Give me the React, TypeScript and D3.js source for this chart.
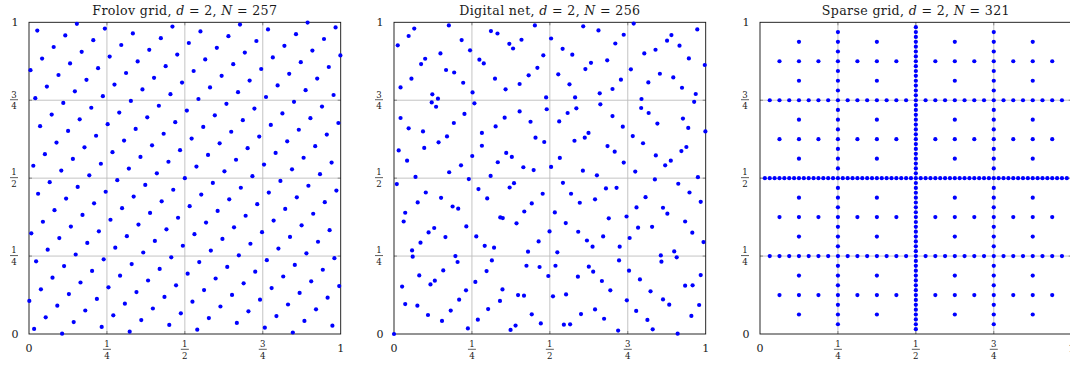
import React from "react";
import * as d3 from "d3";

// ---------- layout ----------
const W = 1070;
const H = 367;
const panelLeft = [29, 394, 760];
const panelTop = 22.3;
const panelSize = 311.7;

// ---------- titles / ticks ----------
const panelNames = ["Frolov grid", "Digital net", "Sparse grid"];
const panelDim = [2, 2, 2];
const panelN = [257, 256, 321];
const tickValues = [0, 0.25, 0.5, 0.75, 1];
const tickLabels: string[][] = [["0"], ["1", "4"], ["1", "2"], ["3", "4"], ["1"]];
const gridValues = [0.25, 0.5, 0.75];

// ---------- Frolov grid: lattice ----------
// centre point, lattice basis vectors, and per lattice row (k2) the half count of k1
const frolovCenter = [0.5, 0.5];
const frolovBasis = [
  [0.0372, 0.0372],
  [0.0526, -0.0526],
];
const frolovRowK2 = [-9, -8, -7, -6, -5, -4, -3, -2, -1, 0, 1, 2, 3, 4, 5, 6, 7, 8, 9];
const frolovRowHalf = [0, 2, 3, 4, 6, 7, 9, 10, 12, 13, 12, 10, 9, 7, 6, 4, 3, 2, 0];

// ---------- Digital net: points ----------
const netPoints: number[][] = [
  [0.176,0.990],[0.452,0.990],[0.607,0.987],[0.769,0.996],[0.065,0.980],[0.656,0.974],[0.973,0.977],[0.311,0.972],[0.332,0.964],[0.737,0.960],
  [0.890,0.959],[0.047,0.956],[0.504,0.948],[0.409,0.944],[0.217,0.943],[0.876,0.941],[0.710,0.932],[0.370,0.931],[0.012,0.926],[0.916,0.925],
  [0.382,0.916],[0.541,0.915],[0.839,0.912],[0.244,0.910],[0.149,0.900],[0.803,0.900],[0.572,0.896],[0.479,0.894],[0.684,0.878],[0.274,0.880],
  [0.100,0.883],[0.946,0.884],[0.288,0.868],[0.087,0.866],[0.632,0.870],[0.614,0.850],[0.997,0.863],[0.167,0.847],[0.460,0.854],[0.760,0.849],
  [0.193,0.839],[0.853,0.835],[0.527,0.833],[0.432,0.830],[0.056,0.819],[0.324,0.819],[0.728,0.816],[0.896,0.823],[0.222,0.806],[0.403,0.802],
  [0.563,0.801],[0.816,0.807],[0.021,0.791],[0.924,0.790],[0.358,0.785],[0.701,0.786],[0.660,0.772],[0.123,0.769],[0.252,0.775],[0.968,0.770],
  [0.581,0.759],[0.488,0.759],[0.794,0.754],[0.141,0.755],[0.121,0.743],[0.258,0.740],[0.963,0.745],[0.662,0.737],[0.135,0.729],[0.585,0.724],
  [0.490,0.721],[0.793,0.725],[0.817,0.709],[0.226,0.706],[0.403,0.714],[0.557,0.709],[0.701,0.699],[0.355,0.694],[0.021,0.693],[0.927,0.691],
  [0.192,0.677],[0.530,0.682],[0.438,0.681],[0.845,0.675],[0.326,0.666],[0.047,0.660],[0.944,0.661],[0.093,0.650],[0.624,0.645],[0.734,0.665],
  [0.612,0.630],[0.170,0.634],[0.999,0.650],[0.766,0.635],[0.454,0.630],[0.482,0.616],[0.143,0.615],[0.579,0.620],[0.282,0.645],[0.799,0.612],
  [0.097,0.597],[0.282,0.604],[0.685,0.603],[0.015,0.589],[0.360,0.581],[0.708,0.585],[0.378,0.568],[0.840,0.573],[0.938,0.600],[0.922,0.587],
  [0.042,0.556],[0.333,0.551],[0.532,0.565],[0.888,0.556],[0.870,0.541],[0.215,0.541],[0.737,0.550],[0.415,0.535],[0.504,0.536],[0.774,0.521],
  [0.177,0.519],[0.448,0.526],[0.606,0.524],[0.069,0.504],[0.310,0.507],[0.651,0.509],[0.975,0.503],[0.837,0.496],[0.240,0.497],[0.009,0.481],
  [0.542,0.485],[0.385,0.484],[0.371,0.470],[0.912,0.482],[0.271,0.465],[0.680,0.467],[0.714,0.469],[0.102,0.454],[0.477,0.450],[0.948,0.454],
  [0.568,0.450],[0.151,0.437],[0.299,0.435],[0.645,0.432],[0.807,0.439],[0.076,0.422],[0.596,0.421],[0.984,0.424],[0.188,0.409],[0.206,0.402],
  [0.442,0.419],[0.863,0.405],[0.036,0.389],[0.516,0.390],[0.418,0.393],[0.778,0.406],[0.877,0.386],[0.341,0.374],[0.349,0.372],[0.689,0.371],
  [0.746,0.377],[0.031,0.361],[0.551,0.356],[0.393,0.355],[0.934,0.361],[0.232,0.345],[0.783,0.341],[0.129,0.340],[0.828,0.344],[0.499,0.329],
  [0.111,0.326],[0.591,0.328],[0.957,0.325],[0.671,0.313],[0.264,0.313],[0.756,0.308],[0.165,0.311],[0.619,0.300],[0.085,0.293],[0.464,0.297],
  [0.993,0.295],[0.291,0.283],[0.321,0.277],[0.637,0.280],[0.724,0.280],[0.058,0.268],[0.430,0.264],[0.524,0.262],[0.899,0.265],[0.060,0.248],
  [0.197,0.250],[0.856,0.252],[0.907,0.246],[0.204,0.231],[0.314,0.236],[0.858,0.232],[0.722,0.236],[0.158,0.204],[0.297,0.202],[0.425,0.219],
  [0.467,0.215],[0.518,0.219],[0.625,0.216],[0.639,0.200],[0.754,0.203],[0.081,0.188],[0.495,0.186],[0.590,0.184],[0.789,0.175],[0.984,0.189],
  [0.667,0.170],[0.117,0.159],[0.131,0.171],[0.261,0.167],[0.026,0.152],[0.934,0.155],[0.958,0.156],[0.348,0.143],[0.823,0.137],[0.231,0.140],
  [0.694,0.140],[0.398,0.125],[0.417,0.123],[0.510,0.121],[0.552,0.127],[0.747,0.108],[0.340,0.106],[0.863,0.111],[0.883,0.094],[0.036,0.096],
  [0.075,0.091],[0.979,0.093],[0.209,0.110],[0.302,0.080],[0.182,0.075],[0.645,0.079],[0.777,0.074],[0.442,0.063],[0.600,0.064],[0.109,0.061],
  [0.954,0.058],[0.154,0.042],[0.269,0.046],[0.674,0.049],[0.813,0.045],[0.471,0.034],[0.545,0.030],[0.565,0.031],[0.390,0.027],[0.237,0.018],
  [0.374,0.013],[0.830,0.015],[0.719,0.011],[0.910,0.001],[0,0],[0.251,0.571],
];

// ---------- Sparse grid: columns (x in 64ths) and the y subdivision of each column group ----------
const sparseColumnX64: number[][] = [
  [32],
  [16, 48],
  [8, 24, 40, 56],
  [4, 12, 20, 28, 36, 44, 52, 60],
  [2, 6, 10, 14, 18, 22, 26, 30, 34, 38, 42, 46, 50, 54, 58, 62],
  [1, 3, 5, 7, 9, 11, 13, 15, 17, 19, 21, 23, 25, 27, 29, 31, 33, 35, 37, 39, 41, 43, 45, 47, 49, 51, 53, 55, 57, 59, 61, 63],
];
const sparseColumnYDen = [64, 32, 16, 8, 4, 2];

// ---------- build point sets ----------
function frolovPoints(): number[][] {
  const pts: number[][] = [];
  frolovRowK2.forEach((k2, r) => {
    const h = frolovRowHalf[r];
    for (let k1 = -h; k1 <= h; k1++) {
      pts.push([
        frolovCenter[0] + k1 * frolovBasis[0][0] + k2 * frolovBasis[1][0],
        frolovCenter[1] + k1 * frolovBasis[0][1] + k2 * frolovBasis[1][1],
      ]);
    }
  });
  return pts;
}

function sparsePoints(): number[][] {
  const pts: number[][] = [];
  sparseColumnX64.forEach((xs, g) => {
    const den = sparseColumnYDen[g];
    xs.forEach((x64) => {
      for (let k = 1; k < den; k++) pts.push([x64 / 64, k / den]);
    });
  });
  return pts;
}

const pointSets = [frolovPoints(), netPoints, sparsePoints()];

const FONT = "'DejaVu Serif', 'Liberation Serif', serif";
const INK = "#1a1a1a";

function Fraction({ x, barY, num, den }: { x: number; barY: number; num: string; den: string }) {
  return (
    <g>
      <text x={x} y={barY - 2.2} textAnchor="middle" fontSize={8.6} fontFamily={FONT} fill={INK}>{num}</text>
      <line x1={x - 4} x2={x + 4} y1={barY} y2={barY} stroke={INK} strokeWidth={0.7} />
      <text x={x} y={barY + 9.4} textAnchor="middle" fontSize={8.6} fontFamily={FONT} fill={INK}>{den}</text>
    </g>
  );
}

function Panel({ idx }: { idx: number }) {
  const x0 = panelLeft[idx];
  const xs = d3.scaleLinear().domain([0, 1]).range([x0, x0 + panelSize]);
  const ys = d3.scaleLinear().domain([0, 1]).range([panelTop + panelSize, panelTop]);
  const pts = pointSets[idx];
  const cx = x0 + panelSize / 2;
  return (
    <g>
      <text x={cx} y={14.5} textAnchor="middle" fontSize={12.6} letterSpacing={0.35} fontFamily={FONT} fill={INK}>
        {panelNames[idx] + ", "}
        <tspan fontStyle="italic">d</tspan>
        {" = " + panelDim[idx] + ", "}
        <tspan fontStyle="italic">N</tspan>
        {" = " + panelN[idx]}
      </text>
      {gridValues.map((g) => (
        <g key={"g" + g}>
          <line x1={xs(g)} x2={xs(g)} y1={ys(0)} y2={ys(1)} stroke="#bdbdbd" strokeWidth={0.9} />
          <line x1={xs(0)} x2={xs(1)} y1={ys(g)} y2={ys(g)} stroke="#bdbdbd" strokeWidth={0.9} />
        </g>
      ))}
      {gridValues.map((g) => (
        <g key={"t" + g} stroke="#707070" strokeWidth={0.8}>
          <line x1={xs(g)} x2={xs(g)} y1={ys(0)} y2={ys(0) - 3} />
          <line x1={xs(g)} x2={xs(g)} y1={ys(1)} y2={ys(1) + 3} />
          <line x1={xs(0)} x2={xs(0) + 3} y1={ys(g)} y2={ys(g)} />
          <line x1={xs(1)} x2={xs(1) - 3} y1={ys(g)} y2={ys(g)} />
        </g>
      ))}
      <rect x={xs(0)} y={ys(1)} width={panelSize} height={panelSize} fill="none" stroke="#111" strokeWidth={0.9} />
      {tickValues.map((t, i) => {
        const lab = tickLabels[i];
        if (lab.length === 1) {
          return (
            <g key={"l" + t}>
              <text x={xs(t)} y={ys(0) + 18} textAnchor="middle" fontSize={11} fontFamily={FONT} fill={INK}>{lab[0]}</text>
              <text x={x0 - 14} y={ys(t) + 4} textAnchor="middle" fontSize={11} fontFamily={FONT} fill={INK}>{lab[0]}</text>
            </g>
          );
        }
        return (
          <g key={"l" + t}>
            <Fraction x={xs(t)} barY={ys(0) + 15.3} num={lab[0]} den={lab[1]} />
            <Fraction x={x0 - 15} barY={ys(t) - 0.5} num={lab[0]} den={lab[1]} />
          </g>
        );
      })}
      {pts.map((p, i) => (
        <circle key={i} cx={xs(p[0])} cy={ys(p[1])} r={2.1} fill="#0000ff" />
      ))}
    </g>
  );
}

export default function App() {
  return (
    <svg
      width={W}
      height={H}
      viewBox={`0 0 ${W} ${H}`}
      style={{ position: "absolute", left: 0, top: 0, background: "#fff" }}
    >
      <rect x={0} y={0} width={W} height={H} fill="#fff" />
      {[0, 1, 2].map((i) => (
        <Panel key={i} idx={i} />
      ))}
    </svg>
  );
}
